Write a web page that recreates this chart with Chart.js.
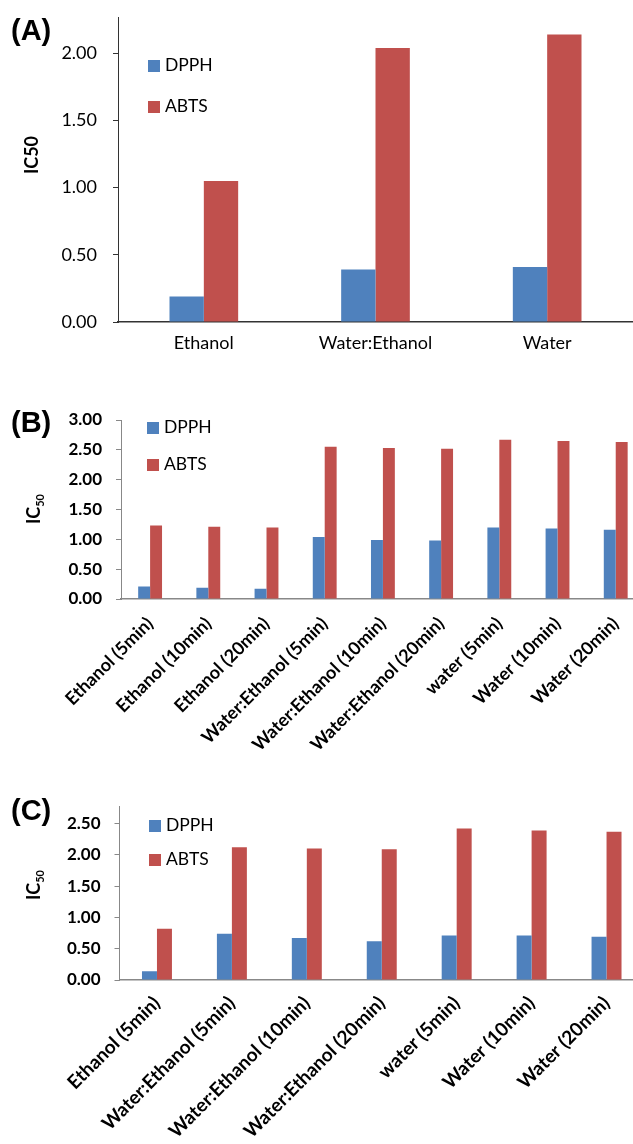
<!DOCTYPE html>
<html>

<head>
    <script src="https://cdn.jsdelivr.net/npm/chart.js"></script>
    <title>IC50 charts</title>
    <style>
        html, body { margin: 0; padding: 0; background: #fff; overflow: hidden; }
        body { width: 633px; height: 1144px; position: relative; font-family: Lato, sans-serif; color: #000; }
        .panel { position: absolute; left: 0; overflow: visible; }
        .panel canvas { display: block; }
        .tag { position: absolute; left: 11px; font: bold 29px "Liberation Sans", Arial, sans-serif; line-height: 29px; }
        .ytitle { position: absolute; transform: translate(-50%, -50%) rotate(-90deg); font-size: 18px; white-space: nowrap; }
        .ytitle sub { font-size: 11px; }
        .legend { position: absolute; font-size: 17.5px; }
        .legend .item { position: absolute; left: 0; white-space: nowrap; line-height: 16px; }
        .legend .sw { display: inline-block; width: 12px; height: 12px; margin-right: 5px; vertical-align: -1px; }
    </style>
</head>

<body>
    <div class="panel" style="top:0; width:633px; height:360px;"><canvas id="chartA"></canvas></div>
    <div class="panel" style="top:380px; width:645px; height:400px;"><canvas id="chartB"></canvas></div>
    <div class="panel" style="top:780px; width:644px; height:364px;"><canvas id="chartC"></canvas></div>

    <div class="tag" style="top:16px;">(A)</div>
    <div class="tag" style="top:408px;">(B)</div>
    <div class="tag" style="top:796px;">(C)</div>

    <div class="ytitle" style="left:31px; top:155px; font-weight:bold;">IC50</div>
    <div class="ytitle" style="left:34px; top:509px; font-weight:bold;">IC<sub>50</sub></div>
    <div class="ytitle" style="left:34px; top:885px; font-weight:bold;">IC<sub>50</sub></div>

    <div class="legend" style="left:148px; top:57px;">
        <div class="item" style="top:0;"><span class="sw" style="background:#4F81BD"></span>DPPH</div>
        <div class="item" style="top:41px;"><span class="sw" style="background:#C0504D"></span>ABTS</div>
    </div>
    <div class="legend" style="left:147px; top:419px;">
        <div class="item" style="top:0;"><span class="sw" style="background:#4F81BD"></span>DPPH</div>
        <div class="item" style="top:37px;"><span class="sw" style="background:#C0504D"></span>ABTS</div>
    </div>
    <div class="legend" style="left:149px; top:817px;">
        <div class="item" style="top:0;"><span class="sw" style="background:#4F81BD"></span>DPPH</div>
        <div class="item" style="top:34px;"><span class="sw" style="background:#C0504D"></span>ABTS</div>
    </div>

    <script>
        // panel A
        const categoriesA = ['Ethanol', 'Water:Ethanol', 'Water'];
        const dpphA = [0.19, 0.39, 0.41];
        const abtsA = [1.05, 2.04, 2.14];

        // panel B
        const categoriesB = ['Ethanol (5min)', 'Ethanol (10min)', 'Ethanol (20min)', 'Water:Ethanol (5min)',
            'Water:Ethanol (10min)', 'Water:Ethanol (20min)', 'water (5min)', 'Water (10min)', 'Water (20min)'];
        const dpphB = [0.21, 0.19, 0.17, 1.04, 0.99, 0.98, 1.20, 1.18, 1.16];
        const abtsB = [1.23, 1.21, 1.20, 2.55, 2.53, 2.52, 2.67, 2.65, 2.63];

        // panel C
        const categoriesC = ['Ethanol (5min)', 'Water:Ethanol (5min)', 'Water:Ethanol (10min)', 'Water:Ethanol (20min)',
            'water (5min)', 'Water (10min)', 'Water (20min)'];
        const dpphC = [0.14, 0.74, 0.67, 0.62, 0.71, 0.71, 0.69];
        const abtsC = [0.82, 2.12, 2.10, 2.09, 2.42, 2.39, 2.37];

        const blue = '#4F81BD';
        const red = '#C0504D';

        function createChart(canvasId, labels, dpph, abts, cfg) {
            new Chart(document.getElementById(canvasId), {
                type: 'bar',
                data: {
                    labels: labels,
                    datasets: [
                        { label: 'DPPH', data: dpph, backgroundColor: blue, categoryPercentage: cfg.catPct, barPercentage: 1.0 },
                        { label: 'ABTS', data: abts, backgroundColor: red, categoryPercentage: cfg.catPct, barPercentage: 1.0 }
                    ]
                },
                options: {
                    responsive: true,
                    maintainAspectRatio: false,
                    animation: false,
                    devicePixelRatio: 1,
                    layout: { padding: { top: cfg.padTop, right: 0, left: 0, bottom: 0 } },
                    plugins: {
                        legend: { display: false },
                        tooltip: { enabled: false }
                    },
                    scales: {
                        x: {
                            grid: { display: false, drawTicks: false },
                            border: { display: true, color: cfg.axisColor, width: 1.5 },
                            ticks: {
                                color: '#000',
                                font: { family: 'Lato', size: cfg.xFont, weight: cfg.xWeight },
                                padding: cfg.xPad,
                                minRotation: cfg.rotation,
                                maxRotation: cfg.rotation,
                                autoSkip: false
                            },
                            afterFit: function (scale) { scale.height = cfg.xHeight; }
                        },
                        y: {
                            min: 0,
                            max: cfg.yMax,
                            grid: { drawOnChartArea: false, drawTicks: true, tickLength: 5, color: cfg.axisColor },
                            border: { display: true, color: cfg.axisColor, width: 1 },
                            ticks: {
                                stepSize: 0.5,
                                includeBounds: false,
                                color: '#000',
                                padding: cfg.yPad,
                                font: { family: 'Lato', size: cfg.yFont, weight: cfg.yWeight },
                                callback: function (v) { return Number(v).toFixed(2); }
                            },
                            afterFit: function (scale) {
                                scale.width = cfg.yWidth;
                                // let layout padding alone decide the plot top
                                scale.paddingTop = 0;
                                scale.paddingBottom = 0;
                            }
                        }
                    }
                }
            });
        }

        createChart('chartA', categoriesA, dpphA, abtsA, {
            catPct: 0.4, padTop: 17, yMax: 2.27, yWidth: 118, xHeight: 38,
            xFont: 18, xWeight: 'normal', xPad: 10, rotation: 0,
            yFont: 18, yWeight: 'normal', yPad: 16, axisColor: '#333'
        });

        createChart('chartB', categoriesB, dpphB, abtsB, {
            catPct: 0.41, padTop: 40, yMax: 3, yWidth: 121, xHeight: 181,
            xFont: 18, xWeight: 'bold', xPad: 14, rotation: 45,
            yFont: 17, yWeight: 'bold', yPad: 14, axisColor: '#888'
        });

        createChart('chartC', categoriesC, dpphC, abtsC, {
            catPct: 0.4, padTop: 26, yMax: 2.78, yWidth: 119.5, xHeight: 164,
            xFont: 19, xWeight: 'bold', xPad: 12, rotation: 45,
            yFont: 17, yWeight: 'bold', yPad: 14, axisColor: '#888'
        });
    </script>
</body>

</html>
